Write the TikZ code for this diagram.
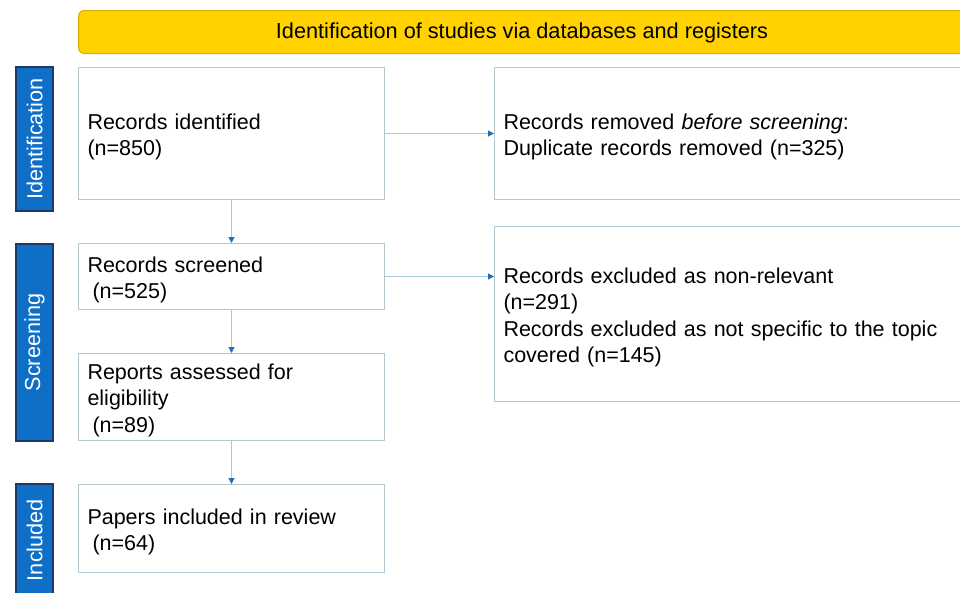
\documentclass[tikz,border=0pt]{standalone}
\usepackage{fontspec}
\setmainfont{Liberation Sans}
\usetikzlibrary{arrows.meta}
\definecolor{boxline}{HTML}{B4C7D0}
\definecolor{connline}{HTML}{A9C8DC}
\definecolor{tipblue}{HTML}{1F6FB5}
\definecolor{gold}{HTML}{FFD200}
\definecolor{goldline}{HTML}{DDB000}
\definecolor{sideblue}{HTML}{0F6FC6}
\definecolor{navy}{HTML}{1F3864}
\tikzset{
  x=1pt, y=-1pt,
  every node/.style={font=\fontsize{21.7}{26.5}\selectfont},
  flowbox/.style={draw=boxline, line width=1pt, fill=white, rectangle, anchor=north west,
    align=left, inner xsep=9pt, inner ysep=0pt, font=\fontsize{21.5}{26.5}\selectfont,
    execute at begin node={\rule{0pt}{22pt}}},
  sidebox/.style={draw=navy, line width=2pt, fill=sideblue, text=white, rectangle, rotate=90,
    inner sep=0pt, minimum height=37pt},
  conn/.style={draw=connline, line width=1pt, -{Triangle[length=6pt,width=6pt,color=tipblue]}},
}
\begin{document}
\begin{tikzpicture}
\useasboundingbox (0,0) rectangle (960,592);
\begin{scope}
\clip (0,0) rectangle (960,592);
% banner
\node[draw=goldline, line width=1pt, fill=gold, rounded corners=6pt, minimum width=890pt, minimum height=43pt, anchor=north west, inner sep=0pt] (banner) at (78,10) {};
\node (bannertext) at (522,32.5) {Identification of studies via databases and registers};
% side labels
\node[sidebox, minimum width=144pt] (sid) at (34.5,139) {Identification};
\node[sidebox, minimum width=197pt] (sscr) at (34.5,342.5) {Screening};
\node[sidebox, minimum width=112pt] (sinc) at (34.5,540) {Included};
% boxes
\node[flowbox, text width=288pt, minimum height=132pt] (ident) at (78,67) {Records identified\\(n=850)};
\node[flowbox, text width=470pt, minimum height=132pt] (removed) at (494,67) {Records removed \textit{before screening}:\\Duplicate records removed (n=325)};
\node[flowbox, text width=288pt, minimum height=66pt] (screened) at (78,243) {Records screened\\\hspace*{5pt}(n=525)};
\node[flowbox, text width=470pt, minimum height=175pt] (excluded) at (494,226) {Records excluded as non-relevant\\(n=291)\\Records excluded as not specific to the topic\\covered (n=145)};
\node[flowbox, text width=288pt, minimum height=87pt] (assessed) at (78,353) {Reports assessed for\\eligibility\\\hspace*{5pt}(n=89)};
\node[flowbox, text width=288pt, minimum height=88pt] (papers) at (78,484) {Papers included in review\\\hspace*{5pt}(n=64)};
% connectors
\draw[conn] (ident.south) -- (screened.north);
\draw[conn] (screened.south) -- (assessed.north);
\draw[conn] (assessed.south) -- (papers.north);
\draw[conn] (ident.east) -- (removed.west);
\draw[conn] (screened.east) -- (screened.east -| excluded.west);
\end{scope}
\end{tikzpicture}
\end{document}
